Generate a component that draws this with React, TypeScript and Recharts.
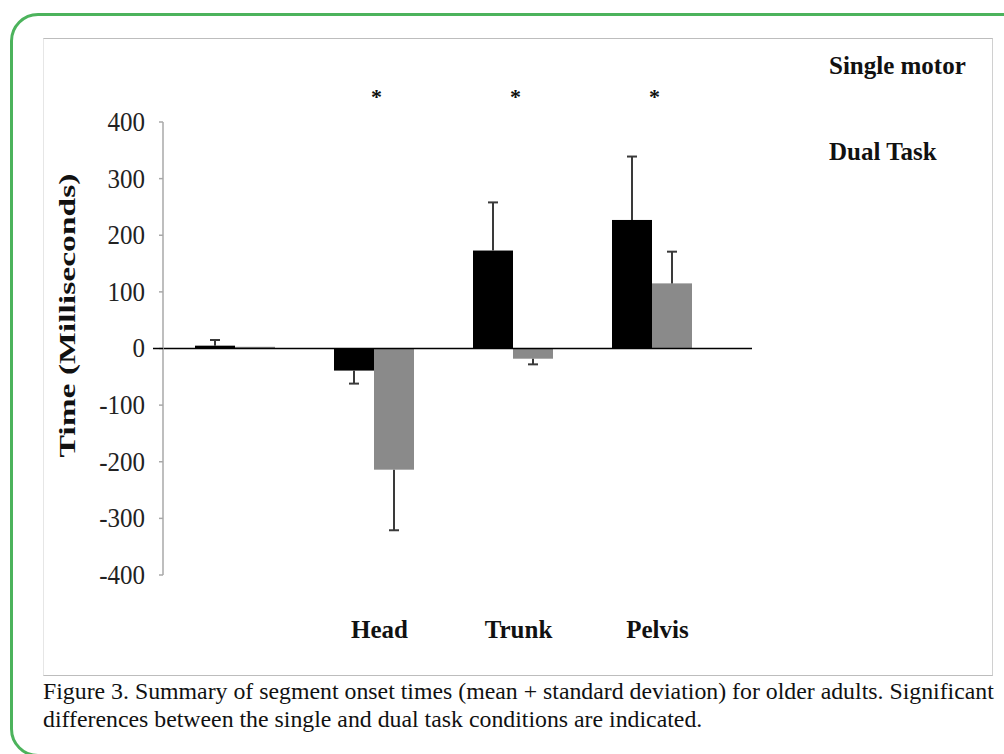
import React from 'react';
import { BarChart, Bar, XAxis, YAxis, ReferenceLine, ReferenceDot, Legend } from 'recharts';

// segment onset times, older adults (ms)
const segments = ['', 'Head', 'Trunk', 'Pelvis'];
const singleMotor = [5, -39, 173, 227];
const singleMotorSD = [10, 23, 85, 112];
const dualTask = [3, -214, -18, 115];
const dualTaskSD = [0, 107, 10, 56];
const significant = ['Head', 'Trunk', 'Pelvis'];
const seriesNames = ['Single motor', 'Dual Task'];
const yTicks = [-400, -300, -200, -100, 0, 100, 200, 300, 400];

const data = segments.map((s, i) => ({
  segment: s,
  single: singleMotor[i],
  singleSD: singleMotorSD[i],
  dual: dualTask[i],
  dualSD: dualTaskSD[i],
}));

const serif = '"Liberation Serif", "Times New Roman", serif';
const TICK_SIZE = 4;
const TICK_MARGIN = 14;

// bar + one-sided (mean + SD) error whisker, scaled off the bar's own geometry
const barWithError = (valueKey: string, sdKey: string) => (props: any) => {
  const { x, y, width, height, fill, payload } = props;
  const v = payload[valueKey];
  const sd = payload[sdKey];
  const top = Math.min(y, y + height);
  const bottom = Math.max(y, y + height);
  const h = bottom - top;
  const cx = x + width / 2;
  let whisker = null;
  if (v !== 0 && sd > 0 && h > 0) {
    const ppu = h / Math.abs(v);
    const start = v > 0 ? top : bottom;
    const end = v > 0 ? top - sd * ppu : bottom + sd * ppu;
    whisker = (
      <g stroke="#3a3a3a" strokeWidth={2}>
        <line x1={cx} y1={start} x2={cx} y2={end} />
        <line x1={cx - 5} y1={end} x2={cx + 5} y2={end} />
      </g>
    );
  }
  return (
    <g>
      <rect x={x} y={top} width={width} height={h} fill={fill} />
      {whisker}
    </g>
  );
};

const YTick = (props: any) => {
  const { x, y, payload } = props;
  const axisX = x + TICK_SIZE + TICK_MARGIN;
  return (
    <g>
      {payload.value === 0 && (
        <line x1={axisX - 10} y1={y} x2={axisX} y2={y} stroke="#000" strokeWidth={1.5} />
      )}
      <text
        x={x}
        y={y}
        textAnchor="end"
        dominantBaseline="central"
        fontFamily={serif}
        fontSize={25}
        fill="#222"
        transform={`translate(0 ${y}) scale(1 1.1) translate(0 ${-y})`}
      >
        {payload.value}
      </text>
    </g>
  );
};

const XTick = (props: any) => {
  const { x, y, payload } = props;
  return (
    <text
      x={x + 6}
      y={y}
      textAnchor="middle"
      dominantBaseline="hanging"
      fontFamily={serif}
      fontWeight="bold"
      fontSize={25}
      fill="#111"
    >
      {payload.value}
    </text>
  );
};

const YTitle = (props: any) => {
  const { viewBox } = props;
  const cx = viewBox.x + 28;
  const cy = viewBox.y + viewBox.height / 2 - 33;
  return (
    <text
      x={cx}
      y={cy}
      transform={`rotate(-90 ${cx} ${cy})`}
      textAnchor="middle"
      dominantBaseline="central"
      fontFamily={serif}
      fontWeight="bold"
      fontSize={24}
      textLength={284}
      lengthAdjust="spacingAndGlyphs"
      fill="#111"
    >
      Time (Milliseconds)
    </text>
  );
};

const LegendText = (props: any) => {
  const items = [...(props.payload || [])].sort(
    (a: any, b: any) => seriesNames.indexOf(a.value) - seriesNames.indexOf(b.value)
  );
  return (
    <div style={{ position: 'relative', width: 0, height: 0 }}>
      {items.map((p: any, i: number) => (
        <div
          key={p.value}
          style={{
            position: 'absolute',
            left: 0,
            top: i * 86,
            whiteSpace: 'nowrap',
            fontFamily: serif,
            fontWeight: 'bold',
            fontSize: 25,
            color: '#111',
          }}
        >
          {p.value}
        </div>
      ))}
    </div>
  );
};

export default function App() {
  return (
    <div style={{ position: 'absolute', left: 0, top: 0, width: 1004, height: 754, background: '#fff', overflow: 'hidden' }}>
      {/* green rounded card */}
      <div
        style={{
          position: 'absolute',
          left: 10,
          top: 13,
          width: 1030,
          height: 738,
          border: '3px solid #4cb35c',
          borderRadius: 28,
        }}
      />
      {/* chart frame */}
      <div
        style={{
          position: 'absolute',
          left: 43,
          top: 38,
          width: 948,
          height: 636,
          borderTop: '1px solid #bdbdbd',
          borderRight: '1px solid #d0d0d0',
          borderBottom: '1px solid #bdbdbd',
          borderLeft: '1px solid #e6e6e6',
        }}
      />
      <div style={{ position: 'absolute', left: 0, top: 0 }}>
        <BarChart
          width={1004}
          height={680}
          data={data}
          margin={{ top: 122, right: 252, bottom: 45, left: 39 }}
          barSize={40}
          barGap={0}
        >
          <XAxis
            dataKey="segment"
            axisLine={false}
            tickLine={false}
            tickSize={0}
            tickMargin={45}
            height={60}
            padding={{ left: 2, right: 31 }}
            tick={<XTick />}
          />
          <YAxis
            domain={[-400, 400]}
            ticks={yTicks}
            width={124}
            axisLine={{ stroke: '#a8a8a8', strokeWidth: 1.5 }}
            tickLine={{ stroke: '#a8a8a8', strokeWidth: 1.5 }}
            tickSize={TICK_SIZE}
            tickMargin={TICK_MARGIN}
            tick={<YTick />}
            label={{ content: <YTitle /> }}
          />
          <ReferenceLine y={0} stroke="#000" strokeWidth={1.5} />
          {significant.map((s) => (
            <ReferenceDot
              key={s}
              x={s}
              y={445}
              r={0}
              ifOverflow="visible"
              label={{ value: '*', position: 'center', dx: 3, fontFamily: serif, fontWeight: 'bold', fontSize: 22, fill: '#111' }}
            />
          ))}
          <Legend
            verticalAlign="top"
            align="right"
            content={<LegendText />}
            wrapperStyle={{ left: 829, top: 52, width: 0, height: 0 }}
          />
          <Bar
            dataKey="single"
            name={seriesNames[0]}
            fill="#000"
            isAnimationActive={false}
            shape={barWithError('single', 'singleSD')}
          />
          <Bar
            dataKey="dual"
            name={seriesNames[1]}
            fill="#8a8a8a"
            isAnimationActive={false}
            shape={barWithError('dual', 'dualSD')}
          />
        </BarChart>
      </div>
      <div
        style={{
          position: 'absolute',
          left: 43,
          top: 678,
          fontFamily: serif,
          fontSize: 23,
          lineHeight: '28px',
          color: '#111',
          whiteSpace: 'nowrap',
          transform: 'scaleX(1.035)',
          transformOrigin: 'left top',
        }}
      >
        <div>Figure 3. Summary of segment onset times (mean + standard deviation) for older adults. Significant</div>
        <div>differences between the single and dual task conditions are indicated.</div>
      </div>
    </div>
  );
}
